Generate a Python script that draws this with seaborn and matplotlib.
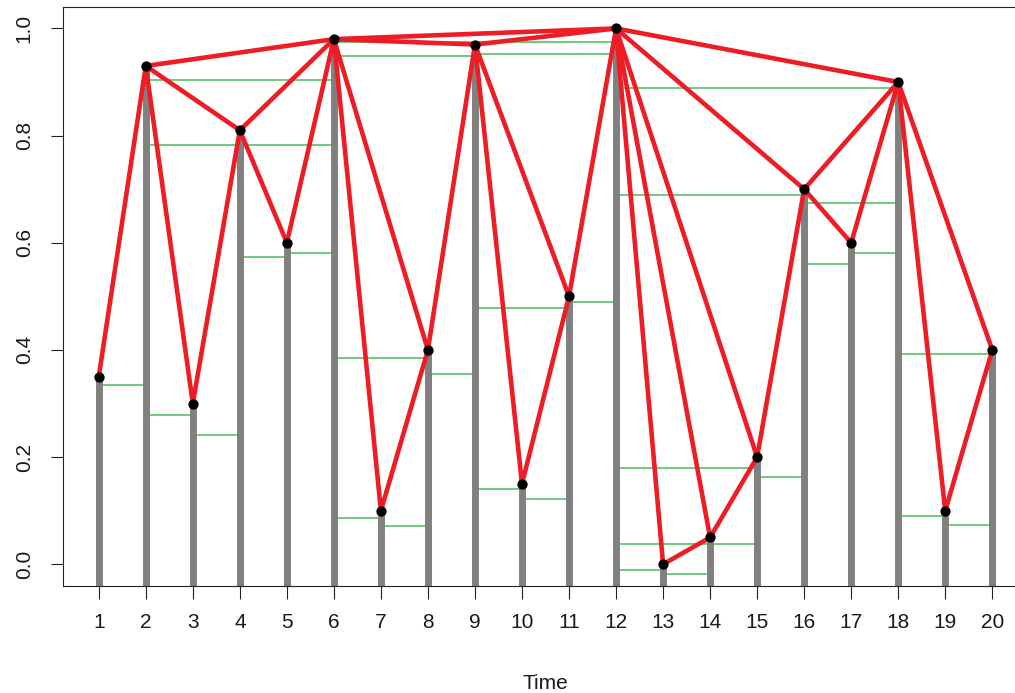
import matplotlib
matplotlib.use("Agg")
import matplotlib.pyplot as plt
import numpy as np
import pandas as pd
import seaborn as sns

# Time series values
time = list(range(1, 21))
values = [0.35, 0.93, 0.30, 0.81, 0.60, 0.98, 0.10, 0.40, 0.97, 0.15,
          0.50, 1.00, 0.00, 0.05, 0.20, 0.70, 0.60, 0.90, 0.10, 0.40]

# Horizontal visibility edges (pairs of time points)
edges = [(1, 2), (2, 3), (3, 4), (4, 5), (5, 6), (2, 4), (4, 6), (2, 6),
         (6, 7), (7, 8), (6, 8), (8, 9), (6, 9), (6, 12), (9, 10), (10, 11),
         (9, 11), (11, 12), (9, 12), (12, 13), (13, 14), (12, 14), (14, 15),
         (12, 15), (15, 16), (12, 16), (16, 17), (17, 18), (16, 18), (12, 18),
         (18, 19), (19, 20), (18, 20)]

# Height of the horizontal sight line drawn for each edge
sight_levels = [0.335, 0.279, 0.241, 0.573, 0.581, 0.782, 0.782, 0.903,
                0.087, 0.072, 0.385, 0.356, 0.948, 0.975, 0.141, 0.122,
                0.478, 0.489, 0.953, -0.011, -0.019, 0.037, 0.037,
                0.180, 0.162, 0.690, 0.560, 0.581, 0.674, 0.889,
                0.090, 0.074, 0.393]

x_ticks = time
y_ticks = [0.0, 0.2, 0.4, 0.6, 0.8, 1.0]
y_tick_labels = ["0.0", "0.2", "0.4", "0.6", "0.8", "1.0"]
x_label = "Time"

sns.set_style("ticks")
plt.rcParams["font.family"] = ["Liberation Sans", "DejaVu Sans"]
plt.rcParams["axes.linewidth"] = 0.8
plt.rcParams["axes.edgecolor"] = "#222222"

W, H = 1015, 693
fig = plt.figure(figsize=(W / 100, H / 100), dpi=100)
fig.patch.set_facecolor("white")
left, right, top, bottom = 63, 1028, 7, 585.7
ax = fig.add_axes([left / W, (H - bottom) / H, (right - left) / W, (bottom - top) / H])

xmin, xmax = 0.24, 20.76
ymin, ymax = -0.04, 1.04
ax.set_xlim(xmin, xmax)
ax.set_ylim(ymin, ymax)

val = dict(zip(time, values))

# Green horizontal sight lines
for (a, b), lvl in zip(edges, sight_levels):
    ax.hlines(lvl, a, b, color="#4cbb5c", lw=1.1, zorder=1)

# Gray stems for each observation
ax.vlines(time, ymin, values, color="#808080", lw=5, zorder=2)

# Red visibility links between the tops of the stems
rows = []
for k, (a, b) in enumerate(edges):
    rows.append({"edge": k, "t": a, "v": val[a]})
    rows.append({"edge": k, "t": b, "v": val[b]})
links = pd.DataFrame(rows)
sns.lineplot(data=links, x="t", y="v", units="edge", estimator=None,
             color="#ee1c25", lw=3.3, ax=ax, zorder=3, legend=False)

# Points
sns.scatterplot(x=time, y=values, color="black", s=55, linewidth=0, ax=ax, zorder=4)

ax.set_xticks(x_ticks)
ax.set_xticklabels([str(t) for t in x_ticks])
ax.set_yticks(y_ticks)
ax.set_yticklabels(y_tick_labels, rotation=90, va="center")
ax.tick_params(axis="both", length=9, width=0.8, color="#222222",
               labelsize=15, labelcolor="#1a1a1a")
ax.tick_params(axis="x", pad=11)
ax.tick_params(axis="y", pad=12)
ax.set_xlabel(x_label, fontsize=15, color="#1a1a1a", labelpad=30)
ax.set_ylabel("")
for s in ax.spines.values():
    s.set_visible(True)

fig.savefig("out.png", dpi=100)
